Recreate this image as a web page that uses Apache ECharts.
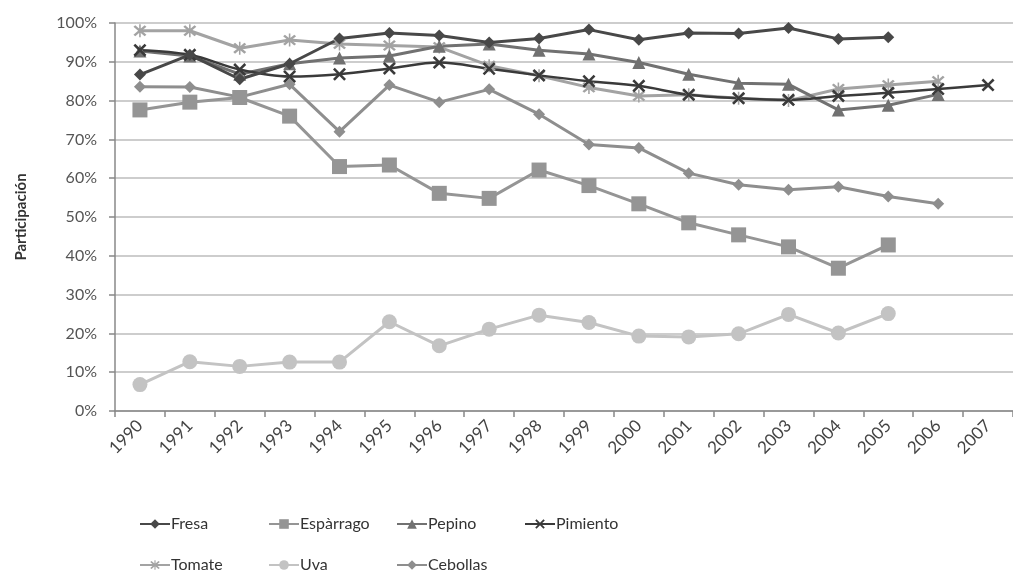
<!DOCTYPE html>
<html><head><meta charset="utf-8">
<script src="https://cdn.jsdelivr.net/npm/echarts@6/dist/echarts.min.js"></script>
<style>html,body{margin:0;padding:0;background:#fff}#c{width:1013px;height:575px}</style>
</head><body><div id="c"></div>
<script>
const years = ['1990','1991','1992','1993','1994','1995','1996','1997','1998','1999','2000','2001','2002','2003','2004','2005','2006','2007'];
const yTicks = [0,10,20,30,40,50,60,70,80,90,100];
const fresa     = [86.7,91.8,85.5,89.5,96,97.4,96.8,95,96,98.3,95.7,97.4,97.3,98.7,95.9,96.3,null,null];
const esparrago = [77.6,79.6,80.8,76,63,63.4,56.1,54.8,62.1,58.1,53.4,48.5,45.4,42.3,36.8,42.8,null,null];
const pepino    = [92.8,91.5,86.8,89.5,91,91.5,94,94.6,93,92,89.8,86.8,84.5,84.2,77.6,78.8,81.6,null];
const pimiento  = [93,91.8,88,86.2,86.8,88.3,89.8,88.2,86.5,85,83.8,81.5,80.6,80.2,81.2,82,83,84];
const tomate    = [98,98,93.5,95.6,94.6,94.2,93.8,89,86.4,83.4,81.2,81.5,80.6,80,83,84,85,null];
const uva       = [6.8,12.7,11.5,12.6,12.6,23,16.8,21.1,24.7,22.8,19.3,19.1,19.9,24.9,20.1,25.1,null,null];
const cebollas  = [83.6,83.5,80.9,84.2,72,84,79.6,82.9,76.5,68.7,67.8,61.3,58.3,57,57.8,55.3,53.4,null];

const xPath = 'path://M0,1.4L1.4,0L5,3.6L8.6,0L10,1.4L6.4,5L10,8.6L8.6,10L5,6.4L1.4,10L0,8.6L3.6,5Z';
const starPath = 'path://M0,1.4L1.4,0L5,3.6L8.6,0L10,1.4L6.4,5L10,8.6L8.6,10L5,6.4L1.4,10L0,8.6L3.6,5ZM4.4,-1L5.6,-1L5.6,11L4.4,11Z';

function s(name, data, color, symbol, size, width, smooth) {
  return {name, type:'line', data, smooth: smooth || false, symbol, symbolSize:size,
    lineStyle:{color, width}, itemStyle:{color}, connectNulls:false, z: 2};
}
const FF = 'Lato, "Open Sans", sans-serif';
const series = [
  s('Tomate', tomate, '#a3a3a3', starPath, 13, 3),
  s('Cebollas', cebollas, '#8e8e8e', 'diamond', 12, 3),
  s('Uva', uva, '#c3c3c3', 'circle', 15, 3),
  s('Espàrrago', esparrago, '#959595', 'rect', 15, 3),
  s('Pepino', pepino, '#717171', 'triangle', 13, 3),
  s('Pimiento', pimiento, '#3a3a3a', xPath, 13, 2.5, 0.35),
  s('Fresa', fresa, '#484848', 'diamond', 12, 3),
];
const legendItems = [
  ['Fresa',134,511],['Espàrrago',263,511],['Pepino',391,511],['Pimiento',519,511],
  ['Tomate',134,552],['Uva',263,552],['Cebollas',391,552]
];
const legends = legendItems.map(([n,l,t]) => ({data:[n], left:l, top:t, itemWidth:30, itemHeight:12, itemGap:0,
  textStyle:{fontFamily:FF, fontSize:16, color:'#333', padding:[0,0,0,-4]}}));
const chart = echarts.init(document.getElementById('c'));
chart.setOption({
  animation:false,
  grid:{left:115, right:-8, top:23, bottom:164},
  legend: legends,
  xAxis:{type:'category', data:years, boundaryGap:true,
    axisLine:{lineStyle:{color:'#888', width:1.5}},
    axisTick:{show:true, length:6, lineStyle:{color:'#888', width:1.5}},
    axisLabel:{rotate:45, fontFamily:FF, fontSize:17, color:'#444', margin:12}},
  yAxis:{type:'value', min:0, max:100, interval:10,
    name:'Participación', nameLocation:'middle', nameGap:86, nameRotate:90,
    nameTextStyle:{fontFamily:FF, fontSize:15, fontWeight:'bold', color:'#333'},
    axisLine:{show:true, lineStyle:{color:'#888', width:1.5}},
    axisTick:{show:true, length:6, lineStyle:{color:'#888', width:1.5}},
    splitLine:{lineStyle:{color:'#bdbdbd', width:1.5}},
    axisLabel:{fontFamily:FF, fontSize:16, color:'#555', margin:18,
      formatter:v => yTicks.indexOf(v) >= 0 ? v + '%' : ''}},
  series
});
</script></body></html>
